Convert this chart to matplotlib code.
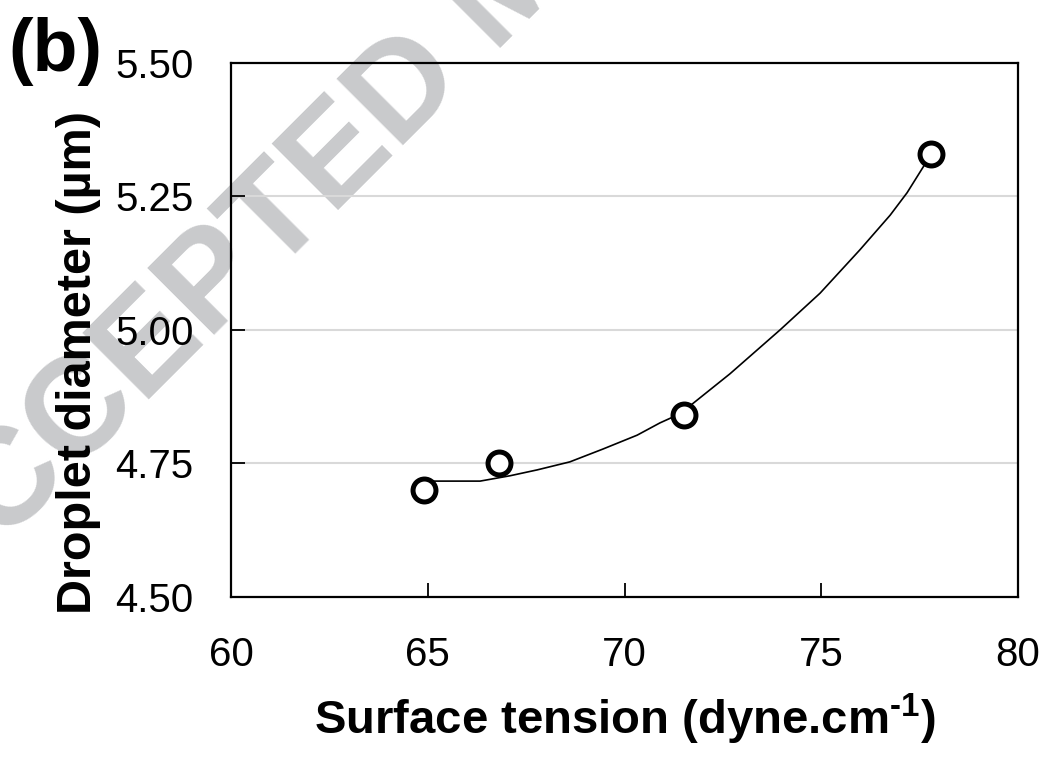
# Droplet diameter vs surface tension, panel (b)

import matplotlib.pyplot as plt

# measured points
tension = [64.9, 66.8, 71.5, 77.8]
diameter = [4.70, 4.75, 4.84, 5.33]

# trend curve
fit_x = [64.9, 66.33, 67.09, 67.78, 68.61, 69.45, 70.32, 70.90, 71.41,
         72.68, 73.95, 74.97, 75.98, 76.75, 77.18, 77.8]
fit_y = [4.717, 4.717, 4.727, 4.738, 4.753, 4.777, 4.803, 4.826, 4.843,
         4.918, 5.000, 5.069, 5.150, 5.215, 5.257, 5.330]

x_ticks = [60, 65, 70, 75, 80]
y_ticks = [4.50, 4.75, 5.00, 5.25, 5.50]

plt.rcParams['font.family'] = ['Liberation Sans', 'DejaVu Sans']

fig = plt.figure(figsize=(10.42, 7.6), dpi=100)
ax = fig.add_axes([0.2217, 0.2145, 0.7553, 0.7026])
ax.set_facecolor('none')

# watermark behind everything
fig.text(-0.065, 0.189, 'ACCEPTED MANUSCRIPT', rotation=45, rotation_mode='anchor',
         ha='left', va='baseline', fontsize=99, fontweight='bold',
         color='#c9cacc', zorder=-1)

ax.plot(fit_x, fit_y, color='black', linewidth=1.2, zorder=2)
ax.plot(tension, diameter, linestyle='none', marker='o', markersize=16.5,
        markerfacecolor='white', markeredgecolor='black', markeredgewidth=3.6,
        zorder=3)

ax.set_xlim(60, 80)
ax.set_ylim(4.5, 5.5)
ax.set_xticks(x_ticks)
ax.set_yticks(y_ticks)
ax.set_yticklabels([f'{v:.2f}' for v in y_ticks])

for y in y_ticks[1:-1]:
    ax.axhline(y, color='#d9d9d9', linewidth=1.5, zorder=1)

for spine in ax.spines.values():
    spine.set_linewidth(1.6)
    spine.set_color('black')

ax.tick_params(axis='both', direction='in', length=10, width=1.3,
               labelsize=29)
ax.tick_params(axis='y', pad=27)
ax.tick_params(axis='x', pad=28)

ax.set_xlabel('Surface tension (dyne.cm$^{\\mathregular{\u20101}}$)', fontsize=34,
              fontweight='bold', labelpad=13)
ax.set_ylabel('Droplet diameter (µm)', fontsize=35, fontweight='bold')
ax.yaxis.set_label_coords(-0.165, 0.44)

fig.text(0.008, 0.978, '(b)', fontsize=53, fontweight='bold', ha='left', va='top')

fig.savefig('out.png', dpi=100)
